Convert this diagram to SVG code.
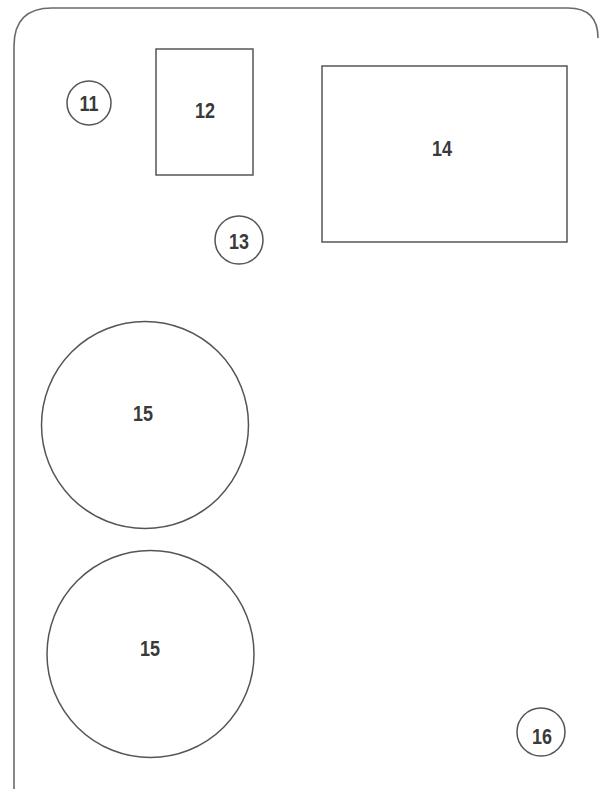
<svg xmlns="http://www.w3.org/2000/svg" width="600" height="789" viewBox="0 0 600 789">
<style>
.shape{fill:none;stroke:#555;stroke-width:1.5}
.frame{fill:none;stroke:#6a6a6a;stroke-width:1.6}
.lbl{font-family:"Liberation Sans",Arial,sans-serif;font-size:22px;font-weight:bold;fill:#3a3a3a;text-anchor:middle}
</style>
<rect width="600" height="789" fill="#fff"/>
<path id="frame" class="frame" d="M14,789 L14,46 Q14,8 52,8 L568,8 Q598,8 598,38"/>
<g id="connectors"></g>
<g id="n11"><circle class="shape" cx="89" cy="103" r="22"/><text class="lbl" x="89" y="111" textLength="19" lengthAdjust="spacingAndGlyphs">11</text></g>
<g id="n12"><rect class="shape" x="156" y="49" width="97" height="126"/><text class="lbl" x="205" y="118" textLength="20" lengthAdjust="spacingAndGlyphs">12</text></g>
<g id="n13"><circle class="shape" cx="239" cy="240" r="24"/><text class="lbl" x="239" y="249" textLength="20" lengthAdjust="spacingAndGlyphs">13</text></g>
<g id="n14"><rect class="shape" x="322" y="66" width="245" height="176"/><text class="lbl" x="442" y="156" textLength="20" lengthAdjust="spacingAndGlyphs">14</text></g>
<g id="n15a"><circle class="shape" cx="145" cy="425" r="103.5"/><text class="lbl" x="143" y="421" textLength="20" lengthAdjust="spacingAndGlyphs">15</text></g>
<g id="n15b"><circle class="shape" cx="150.5" cy="654" r="103.5"/><text class="lbl" x="150" y="656" textLength="20" lengthAdjust="spacingAndGlyphs">15</text></g>
<g id="n16"><circle class="shape" cx="541" cy="732" r="24"/><text class="lbl" x="542" y="744" textLength="20" lengthAdjust="spacingAndGlyphs">16</text></g>
</svg>
